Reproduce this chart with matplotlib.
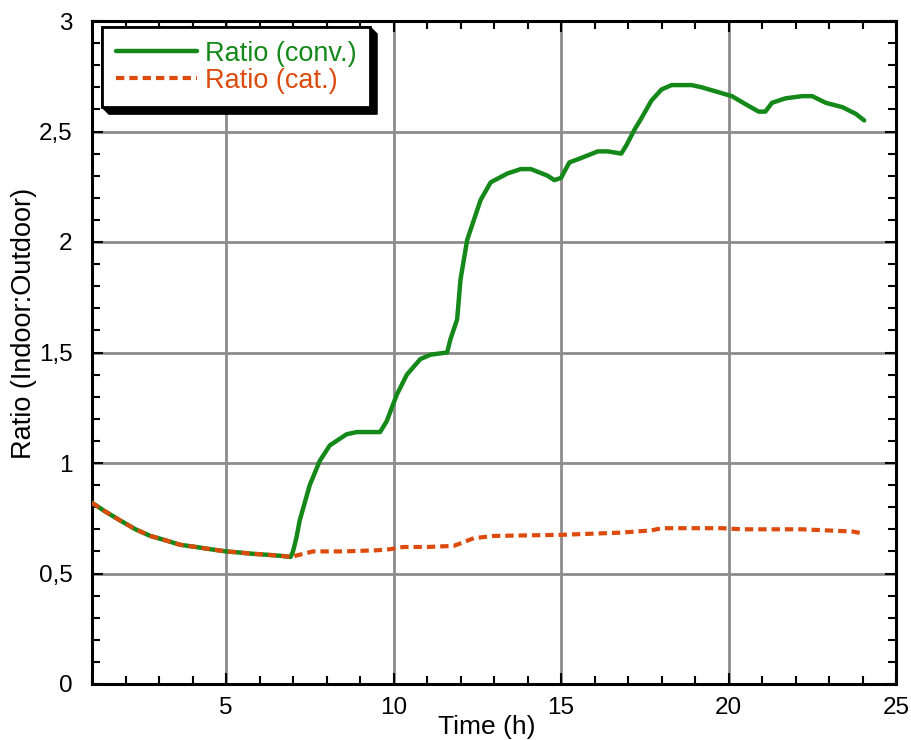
import matplotlib
matplotlib.use("Agg")
import matplotlib.pyplot as plt
from matplotlib.ticker import MultipleLocator, FuncFormatter
from matplotlib.patches import Polygon

plt.rcParams['font.family'] = ['Liberation Sans', 'DejaVu Sans']

# Data
t_conv = [1.0, 1.4, 1.84, 2.3, 2.74, 3.2, 3.63, 4.1, 4.53, 5.0, 5.4, 5.73, 6.2, 6.63, 6.93,
          7.0, 7.1, 7.2, 7.35, 7.5, 7.8, 8.1, 8.6, 8.9, 9.6, 9.8, 10.1, 10.4, 10.8, 11.1,
          11.6, 11.7, 11.9, 12.0, 12.2, 12.4, 12.6, 12.9, 13.4, 13.8, 14.1, 14.6, 14.8,
          15.0, 15.25, 15.6, 16.1, 16.4, 16.8, 16.96, 17.2, 17.4, 17.7, 18.0, 18.3, 18.9,
          19.2, 19.65, 20.1, 20.55, 20.9, 21.1, 21.3, 21.7, 22.2, 22.5, 22.9, 23.4, 23.8, 24.05]
r_conv = [0.82, 0.78, 0.74, 0.70, 0.67, 0.65, 0.63, 0.62, 0.61, 0.60, 0.595, 0.59, 0.585, 0.58, 0.575,
          0.60, 0.66, 0.74, 0.82, 0.90, 1.01, 1.08, 1.13, 1.14, 1.14, 1.19, 1.31, 1.40, 1.47, 1.49,
          1.50, 1.56, 1.65, 1.83, 2.01, 2.10, 2.19, 2.27, 2.31, 2.33, 2.33, 2.30, 2.28,
          2.29, 2.36, 2.38, 2.41, 2.41, 2.40, 2.44, 2.51, 2.56, 2.64, 2.69, 2.71, 2.71,
          2.70, 2.68, 2.66, 2.62, 2.59, 2.59, 2.63, 2.65, 2.66, 2.66, 2.63, 2.61, 2.58, 2.55]

t_cat = [1.0, 1.4, 1.84, 2.3, 2.74, 3.2, 3.63, 4.1, 4.53, 5.0, 5.4, 5.73, 6.2, 6.63, 6.93,
         7.2, 7.6, 8.5, 9.5, 9.9, 10.3, 11.0, 11.8, 12.4, 13.0, 15.0, 16.8, 17.7, 18.0,
         19.8, 20.4, 22.2, 23.7, 24.05]
r_cat = [0.82, 0.78, 0.74, 0.70, 0.67, 0.65, 0.63, 0.62, 0.61, 0.60, 0.595, 0.59, 0.585, 0.58, 0.575,
         0.585, 0.60, 0.60, 0.605, 0.61, 0.62, 0.62, 0.625, 0.66, 0.67, 0.675, 0.685, 0.695, 0.705,
         0.705, 0.70, 0.70, 0.69, 0.68]

x_ticks = [5, 10, 15, 20, 25]
y_ticks = [0, 0.5, 1, 1.5, 2, 2.5, 3]

green = '#14891a'
orange = '#dc4a0c'

fig = plt.figure(figsize=(9.11, 7.40), dpi=100)
ax = fig.add_axes([92/911, 56/740, (896-92)/911, (684-21)/740])

ax.plot(t_conv, r_conv, color=green, lw=3.2, label='Ratio (conv.)', solid_capstyle='round', zorder=3)
ax.plot(t_cat, r_cat, color=orange, lw=3.0, ls=(0, (2.0, 1.2)), label='Ratio (cat.)', zorder=4)

ax.set_xlim(1, 25)
ax.set_ylim(0, 3)
ax.set_xticks(x_ticks)
ax.set_yticks(y_ticks)
ax.xaxis.set_minor_locator(MultipleLocator(1))
ax.yaxis.set_minor_locator(MultipleLocator(0.1))
fmt = FuncFormatter(lambda v, p: ('%g' % v).replace('.', ','))
ax.yaxis.set_major_formatter(fmt)
ax.xaxis.set_major_formatter(fmt)

ax.grid(True, which='major', color='#8c8c8c', lw=2.0, zorder=0)
ax.tick_params(which='both', direction='in', top=True, right=True, width=1.5, colors='black',
               labelsize=17.5)
ax.tick_params(which='major', length=8)
ax.tick_params(which='minor', length=6)
ax.tick_params(axis='x', which='major', pad=9)
ax.tick_params(axis='y', which='major', pad=14)
for s in ax.spines.values():
    s.set_linewidth(2.2)
    s.set_color('black')

ax.set_xlabel('Time (h)', fontsize=19)
ax.xaxis.set_label_coords((487-92)/804, -0.047, transform=ax.transAxes)
ax.set_ylabel('Ratio (Indoor:Outdoor)', fontsize=19.5)
ax.yaxis.set_label_coords(-0.068, (684-323)/663, transform=ax.transAxes)

leg = ax.legend(loc='upper left', bbox_to_anchor=(0.0124, 0.991), fontsize=19.5, frameon=True,
                fancybox=False, handlelength=3.0, handletextpad=0.3, borderpad=0.5,
                labelspacing=0.04, borderaxespad=0.0, shadow=False)
leg.get_frame().set_edgecolor('black')
leg.get_frame().set_linewidth(2.0)
leg.get_frame().set_alpha(1.0)
leg.set_zorder(6)
for txt, c in zip(leg.get_texts(), [green, orange]):
    txt.set_color(c)

# drop shadow behind legend (pixel coordinates)
fig.canvas.draw()
bb = leg.get_frame().get_window_extent(fig.canvas.get_renderer())
d = 7
x0, y0, x1, y1 = bb.x0, bb.y0, bb.x1, bb.y1
shadow = Polygon([(x0, y0), (x0 + d, y0 - d), (x1 + d, y0 - d), (x1 + d, y1 - d), (x1, y1), (x0, y1)],
                 closed=True, transform=None, facecolor='black', edgecolor='black',
                 clip_on=False, zorder=5.5)
ax.add_artist(shadow)

fig.savefig('out.png', dpi=100)
